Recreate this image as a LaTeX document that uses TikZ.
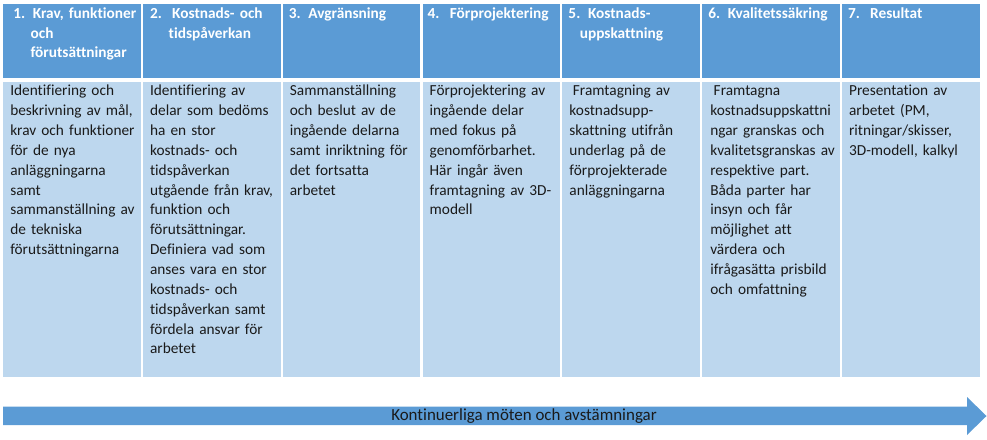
\documentclass[tikz,border=0pt]{standalone}
\usepackage{fontspec}
\setmainfont{Carlito}[Ligatures=NoCommon]
\definecolor{hdr}{HTML}{5B9BD5}
\definecolor{bod}{HTML}{BDD7EE}
\definecolor{txt}{HTML}{1A1A1A}
\begin{document}
\begin{tikzpicture}[x=0.75pt,y=-0.75pt,
  hcell/.style={anchor=north west,fill=hdr,draw=none,inner sep=0pt,minimum width=103.1pt,minimum height=55.5pt},
  bcell/.style={anchor=north west,fill=bod,draw=none,inner sep=0pt,minimum width=103.1pt,minimum height=221.6pt},
  htext/.style={anchor=north west,inner sep=0pt,text width=100pt,align=left,text=white,font=\fontsize{11.5pt}{14.6pt}\selectfont\bfseries},
  btext/.style={anchor=north west,inner sep=0pt,text width=99pt,align=left,text=txt,font=\fontsize{11.5pt}{14.9pt}\selectfont},
  arrowlbl/.style={inner sep=0pt,text=txt,font=\fontsize{12.7pt}{14pt}\selectfont}
]
\useasboundingbox (0,0) rectangle (987,439);
% header cells
\node[hcell] (h1) at (3,4) {};
\node[hcell] (h2) at (142.8,4) {};
\node[hcell] (h3) at (282.6,4) {};
\node[hcell] (h4) at (422.4,4) {};
\node[hcell] (h5) at (562.2,4) {};
\node[hcell] (h6) at (702,4) {};
\node[hcell] (h7) at (841.8,4) {};
% body cells
\node[bcell] (b1) at (3,81.5) {};
\node[bcell] (b2) at (142.8,81.5) {};
\node[bcell] (b3) at (282.6,81.5) {};
\node[bcell] (b4) at (422.4,81.5) {};
\node[bcell] (b5) at (562.2,81.5) {};
\node[bcell] (b6) at (702,81.5) {};
\node[bcell] (b7) at (841.8,81.5) {};
% header texts
\node[htext] (ht1) at ([shift={(10,1)}]h1.north west) {\strut 1. Krav, funktioner\\\hspace*{13pt}och\\\hspace*{13pt}förutsättningar};
\node[htext] (ht2) at ([shift={(7,1)}]h2.north west) {\strut 2.\ \ Kostnads- och\\\hspace*{14pt}tidspåverkan};
\node[htext] (ht3) at ([shift={(6,1)}]h3.north west) {\strut 3. Avgränsning};
\node[htext] (ht4) at ([shift={(5,1)}]h4.north west) {\strut 4.\ \ Förprojektering};
\node[htext] (ht5) at ([shift={(6,1)}]h5.north west) {\strut 5. Kostnads-\\\hspace*{8.5pt}uppskattning};
\node[htext] (ht6) at ([shift={(6,1)}]h6.north west) {\strut 6. Kvalitetssäkring};
\node[htext] (ht7) at ([shift={(6,1)}]h7.north west) {\strut 7.\ \ Resultat};
% body texts
\node[btext] (bt1) at ([shift={(7,0)}]b1.north west) {\strut Identifiering och\\beskrivning av mål,\\krav och funktioner\\för de nya\\anläggningarna\\samt\\sammanställning av\\de tekniska\\förutsättningarna};
\node[btext] (bt2) at ([shift={(7,0)}]b2.north west) {\strut Identifiering av\\delar som bedöms\\ha en stor\\kostnads- och\\tidspåverkan\\utgående från krav,\\funktion och\\förutsättningar.\\Definiera vad som\\anses vara en stor\\kostnads- och\\tidspåverkan samt\\fördela ansvar för\\arbetet};
\node[btext] (bt3) at ([shift={(7,0)}]b3.north west) {\strut Sammanställning\\och beslut av de\\ingående delarna\\samt inriktning för\\det fortsatta\\arbetet};
\node[btext] (bt4) at ([shift={(7,0)}]b4.north west) {\strut Förprojektering av\\ingående delar\\med fokus på\\genomförbarhet.\\Här ingår även\\framtagning av 3D-\\modell};
\node[btext] (bt5) at ([shift={(7,0)}]b5.north west) {\strut\hspace*{2.6pt}Framtagning av\\kostnadsupp-\\skattning utifrån\\underlag på de\\förprojekterade\\anläggningarna};
\node[btext] (bt6) at ([shift={(8,0)}]b6.north west) {\strut\hspace*{2.6pt}Framtagna\\kostnadsuppskattni\\ngar granskas och\\kvalitetsgranskas av\\respektive part.\\Båda parter har\\insyn och får\\möjlighet att\\värdera och\\ifrågasätta prisbild\\och omfattning};
\node[btext] (bt7) at ([shift={(7,0)}]b7.north west) {\strut Presentation av\\arbetet (PM,\\ritningar/skisser,\\3D-modell, kalkyl};
% arrow
\fill[hdr] (3,406.5) -- (967,406.5) -- (967,397) -- (986.5,416) -- (967,435) -- (967,425) -- (3,425) -- cycle;
\node[arrowlbl] (lbl) at (524,416) {Kontinuerliga möten och avstämningar};
\end{tikzpicture}
\end{document}
